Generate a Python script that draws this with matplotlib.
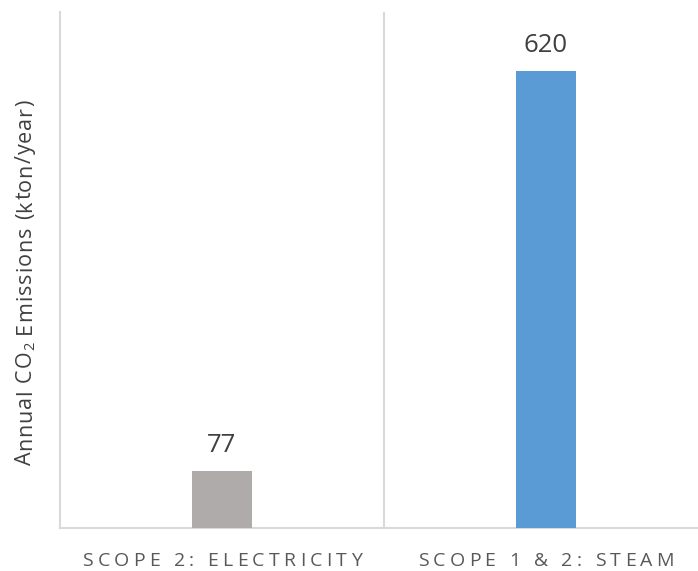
import matplotlib
matplotlib.use("Agg")
import matplotlib.pyplot as plt
from matplotlib.transforms import offset_copy, IdentityTransform
from matplotlib.font_manager import FontProperties

categories = ["SCOPE 2: ELECTRICITY", "SCOPE 1 & 2: STEAM"]
values = [77, 620]
bar_colors = ["#AFABAB", "#5B9BD5"]
y_label = [("Annual CO", 1.0, 0.0), ("2", 0.68, -0.16), (" Emissions (kton/year)", 1.0, 0.0)]

FAMILY = ["Open Sans", "DejaVu Sans"]
plt.rcParams["font.family"] = FAMILY

W, H = 698, 571
fig = plt.figure(figsize=(W / 100, H / 100), dpi=100)
ax = fig.add_axes([60 / W, 1 - 528 / H, 648 / W, 516 / H])

x = list(range(len(categories)))
ax.bar(x, values, width=0.185, color=bar_colors, zorder=3)
ax.set_xlim(-0.5, len(categories) - 0.5)
ax.set_ylim(0, 700)

grid_c = "#D9D9D9"
for s in ["top", "right"]:
    ax.spines[s].set_visible(False)
for s in ["left", "bottom"]:
    ax.spines[s].set_color(grid_c)
    ax.spines[s].set_linewidth(1.5)
for xb in [i + 0.5 for i in x[:-1]]:
    ax.axvline(xb, color=grid_c, lw=1.5, zorder=1)

ax.set_yticks([])
ax.set_xticks([])

# value labels above the bars
for xi, v in zip(x, values):
    ax.annotate(f"{v}", (xi, v), xytext=(0, 14), textcoords="offset points",
                ha="center", va="baseline", fontsize=18.5, color="#404040")

fig.canvas.draw()
renderer = fig.canvas.get_renderer()


def text_w(s, prop):
    # advance width of s, bracketed so leading/trailing spaces count
    w, _, _ = renderer.get_text_width_height_descent("|" + s + "|", prop, ismath=False)
    w0, _, _ = renderer.get_text_width_height_descent("||", prop, ismath=False)
    return w - w0


# letter-spaced category labels
tick_prop = FontProperties(family=FAMILY, size=14)
track = (279 - text_w(categories[0], tick_prop)) / (len(categories[0]) - 1)
base_tr = ax.get_xaxis_transform()
for xi, label in zip(x, categories):
    total = text_w(label, tick_prop) + track * (len(label) - 1)
    for i, ch in enumerate(label):
        if ch == " ":
            continue
        dx = text_w(label[:i], tick_prop) + track * i - total / 2
        tr = offset_copy(base_tr, fig=fig, x=dx * 72 / 100, y=0, units="points")
        ax.text(xi, -0.064, ch, transform=tr, fontproperties=tick_prop,
                ha="left", va="center", color="#595959")

# vertical axis title with a real subscript, fitted to span the plot height
y_start, y_end = 465, 100
ylab_size = 15.5
segs = [(s, FontProperties(family=FAMILY, size=ylab_size * sc), sh) for s, sc, sh in y_label]
n_chars = sum(len(s) for s, _, _ in segs)
natural = sum(text_w(s, p) for s, p, _ in segs)
ytrack = ((y_start - y_end) - natural) / (n_chars - 1)
em_px = ylab_size * 100 / 72
base_x = 31
pos = 0.0
for seg, p, shift in segs:
    for i, ch in enumerate(seg):
        if ch != " ":
            off = text_w(seg[:i], p) + ytrack * i
            fig.text(base_x - shift * em_px, H - (y_start - pos - off), ch,
                     transform=IdentityTransform(), fontproperties=p,
                     rotation=90, rotation_mode="anchor", ha="left", va="baseline",
                     color="#404040")
    pos += text_w(seg, p) + ytrack * len(seg)

fig.savefig("out.png", dpi=100)
